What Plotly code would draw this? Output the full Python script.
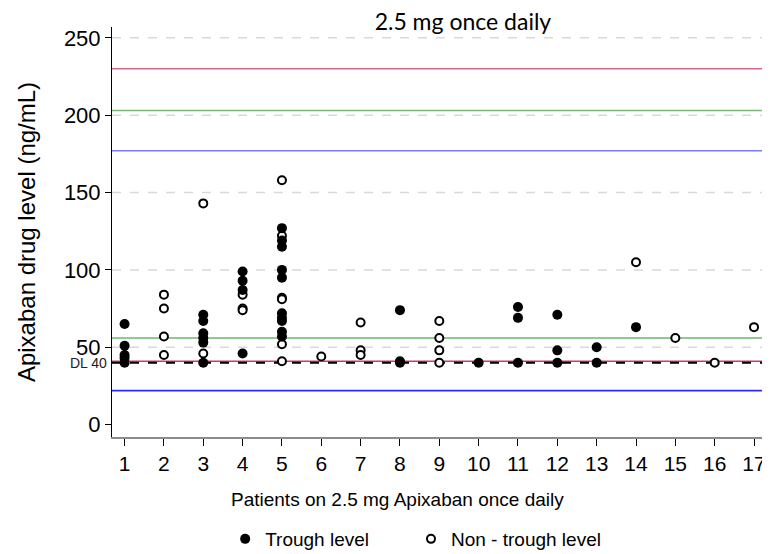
import plotly.graph_objects as go

# Trough (filled) and non-trough (open) drug levels per patient
trough_patient = [1, 1, 1, 1, 1,
                  3, 3, 3, 3, 3, 3,
                  4, 4, 4, 4,
                  5, 5, 5, 5, 5, 5, 5, 5, 5, 5,
                  8, 8, 8,
                  10,
                  11, 11, 11,
                  12, 12, 12,
                  13, 13,
                  14]
trough_level = [65, 51, 45, 43, 40,
                71, 67, 59, 56, 53, 40,
                99, 93, 87, 46,
                127, 119, 115, 100, 95, 72, 69, 67, 60, 57,
                74, 41, 40,
                40,
                76, 69, 40,
                71, 48, 40,
                50, 40,
                63]

nontrough_patient = [2, 2, 2, 2,
                     3, 3,
                     4, 4, 4,
                     5, 5, 5, 5, 5, 5,
                     6,
                     7, 7, 7,
                     9, 9, 9, 9,
                     14, 15, 16, 17]
nontrough_level = [84, 75, 57, 45,
                   143, 46,
                   84, 75, 74,
                   158, 122, 82, 81, 52, 41,
                   44,
                   66, 48, 45,
                   67, 56, 48, 40,
                   105, 56, 40, 63]

# reference ranges (upper set / lower set)
ref_levels = [230, 203, 177, 41, 56, 22]
ref_colors = ["#d66a86", "#76b876", "#7b7bf3", "#cc3d62", "#6cb46c", "#2a2aff"]
detection_limit = 40

y_ticks = [0, 50, 100, 150, 200, 250]
x_ticks = list(range(1, 18))

fig = go.Figure()

fig.add_trace(go.Scatter(
    x=nontrough_patient, y=nontrough_level, mode="markers",
    name="Non - trough level", legendrank=2,
    marker=dict(symbol="circle", size=8, color="white",
                line=dict(color="black", width=2)),
))
fig.add_trace(go.Scatter(
    x=trough_patient, y=trough_level, mode="markers",
    name="Trough level" + "\u00a0" * 7, legendrank=1,
    marker=dict(symbol="circle", size=10, color="black",
                line=dict(color="black", width=0)),
))

# dashed grid lines (none at zero)
for t in y_ticks[1:]:
    fig.add_hline(y=t, line=dict(color="#d9d9d9", width=1.5, dash="dash"), layer="below")

for lvl, col in zip(ref_levels, ref_colors):
    fig.add_hline(y=lvl, line=dict(color=col, width=1.6), layer="below")

fig.add_hline(y=detection_limit, line=dict(color="black", width=2, dash="dash"), layer="below")
fig.add_annotation(x=0, xref="paper", y=detection_limit, yref="y", text="DL 40",
                   showarrow=False, xanchor="right", yanchor="middle", xshift=-3,
                   font=dict(size=14, color="#222222"))

# x axis title sits left of the plot centre in the original
fig.add_annotation(x=(397 - 112) / 655, xref="paper", y=-63 / 410, yref="paper",
                   text="Patients on 2.5 mg Apixaban once daily", showarrow=False,
                   xanchor="center", yanchor="middle", font=dict(size=19))

# page body has an 8px margin, so the figure is 8px smaller than the window
fig.update_layout(
    width=762, height=546,
    margin=dict(l=104, r=3, t=19, b=117),
    plot_bgcolor="white", paper_bgcolor="white",
    font=dict(family="Liberation Sans, Arial, sans-serif", size=19, color="black"),
    title=dict(text="2.5 mg once daily", x=0.597, xanchor="center",
               y=0.974, yanchor="middle",
               font=dict(family="Lato, sans-serif", size=23, color="black")),
    showlegend=True,
    legend=dict(orientation="h", x=0.285, xanchor="left", xref="container",
                y=1 - 531 / 546, yanchor="middle", yref="container",
                font=dict(size=19), itemwidth=30),
)

fig.update_xaxes(
    range=[0.68, 17.33], tickvals=x_ticks, showgrid=False, zeroline=False,
    showline=True, linecolor="#8c8c8c", linewidth=1.5,
    ticks="outside", ticklen=7, tickcolor="black", tickwidth=1,
    tickfont=dict(size=21),
)
fig.update_yaxes(
    range=[-8, 257], tickvals=y_ticks, showgrid=False, zeroline=False,
    showline=True, linecolor="black", linewidth=1,
    ticks="outside", ticklen=6, tickcolor="black",
    tickfont=dict(size=22),
    title=dict(text="Apixaban drug level (ng/mL)", font=dict(size=24), standoff=21),
)

fig.write_html("out.html")
